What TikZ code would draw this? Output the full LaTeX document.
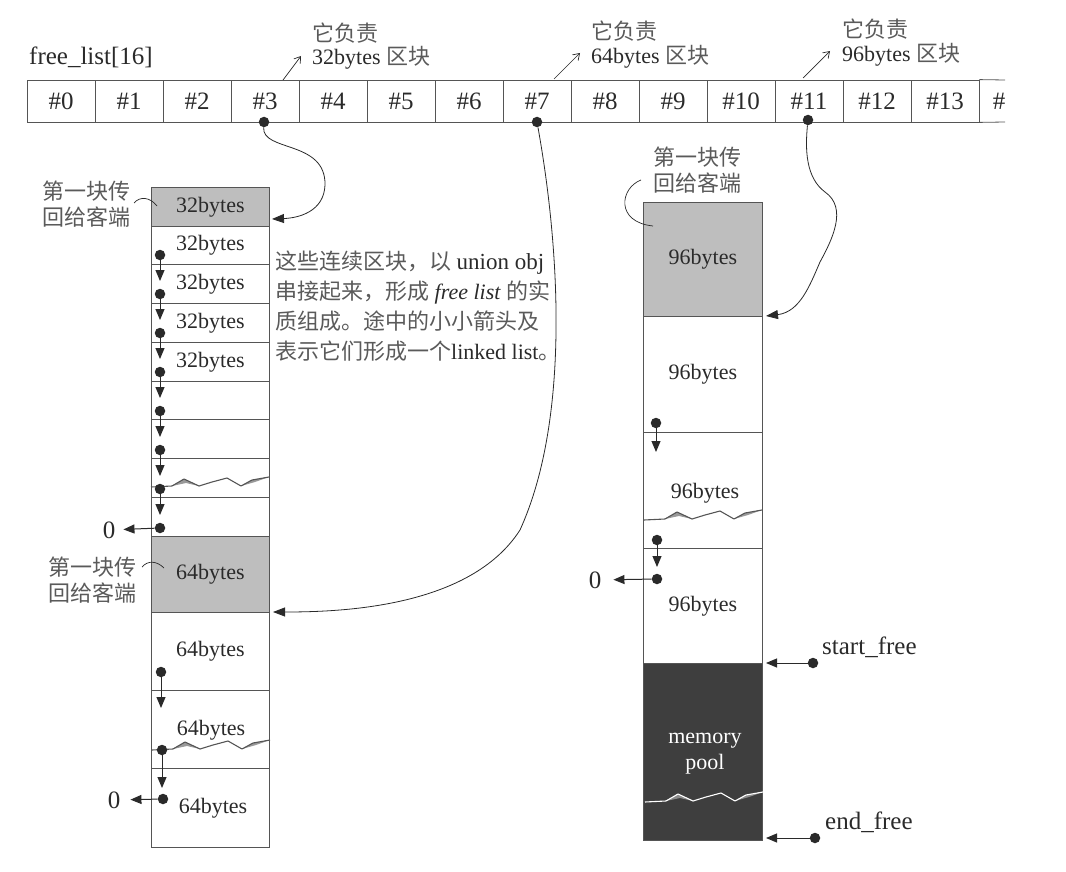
\documentclass[tikz,border=0pt]{standalone}
\usepackage{fontspec}
\setmainfont{Liberation Serif}
\newfontfamily\cjk{Noto Sans CJK SC}
\usetikzlibrary{arrows.meta}
\definecolor{lc}{HTML}{555555}
\definecolor{tc}{HTML}{2A2A2A}
\definecolor{cc}{HTML}{5A5A5A}
\definecolor{gf}{HTML}{BEBEBE}
\definecolor{dk}{HTML}{3E3E3E}
\newcommand{\zh}[1]{{\cjk\color{cc}#1}}
\newcommand{\wavyline}[4]{%
  \begin{scope}[shift={(#1,#2)}]
    \fill[#4] (21,-1)--(33,-8)--(48,-1)--(35,-4)--cycle;
    \fill[#4] (90,-1)--(101,-7)--(118,-10)--(104,-5)--cycle;
    \draw[#3, line width=1.1pt, line join=round] (0,0)--(21,-1)--(33,-8)--(48,-1)--(61,-5)--(76,-9)--(90,-1)--(101,-7)--(118,-10);
  \end{scope}}
\begin{document}
\begin{tikzpicture}[x=1pt,y=-1pt,
  every node/.style={inner sep=0pt, text=tc, font=\fontsize{22}{26}\selectfont},
  lab/.style={font=\fontsize{25}{28}\selectfont},
  ln/.style={draw=lc, line width=0.8pt},
  acell/.style={draw=lc, line width=0.8pt, minimum width=68pt, minimum height=42pt, lab},
  lcell/.style={draw=lc, line width=0.8pt, minimum width=118pt, anchor=north west},
  rcell/.style={draw=lc, line width=0.8pt, minimum width=119pt, anchor=north west},
  gcell/.style={fill=gf},
  dot/.style={circle, fill=tc, minimum size=10.5pt, inner sep=0pt},
  ptr/.style={draw=tc, line width=1pt, -{Triangle[length=11pt,width=9pt]}},
  big/.style={draw=tc, line width=0.8pt, -{Triangle[length=12pt,width=9pt]}},
  note/.style={draw=tc, line width=0.7pt, -{Straight Barb[length=6pt,width=8pt]}},
  tie/.style={draw=tc, line width=0.7pt}]
\useasboundingbox (0,0) rectangle (1066,872);

% ---- free_list array ----
\node[anchor=west, lab] (fl) at (29,57) {free\_list[16]};
\foreach \i in {0,...,13}{
  \node[acell] (c\i) at ({27+68*\i+34},101) {\#\i};
}
\coordinate (e1) at (1005,80);
\coordinate (e2) at (1005,122);
\draw[ln] (c13.north east) -- (e1);
\draw[ln] (c13.south east) -- (e2);
\node[lab] (c14) at (999,101) {\#};

\node[dot] (d3) at (264,122) {};
\node[dot] (d7) at (537,122) {};
\node[dot] (d11) at (808,120) {};

% ---- notes above ----
\node[anchor=west] (n3a) at (312,33) {\zh{它负责}};
\node[anchor=west] (n3b) at (312,58) {32bytes \zh{区块}};
\node[anchor=west] (n7a) at (591,31) {\zh{它负责}};
\node[anchor=west] (n7b) at (591,57) {64bytes \zh{区块}};
\node[anchor=west] (n11a) at (842,29) {\zh{它负责}};
\node[anchor=west] (n11b) at (842,55) {96bytes \zh{区块}};
\coordinate (s3) at (283,80);  \coordinate (t3) at (301,56);
\coordinate (s7) at (554,79);  \coordinate (t7) at (580,53);
\coordinate (s11) at (803,78); \coordinate (t11) at (830,51);
\draw[note] (s3) -- (t3);
\draw[note] (s7) -- (t7);
\draw[note] (s11) -- (t11);

% ---- left column ----
\node[lcell, gcell, minimum height=39pt] (L0) at (151,187) {32bytes};
\node[lcell, minimum height=38pt] (L1) at (151,226) {32bytes};
\node[lcell, minimum height=39pt] (L2) at (151,264) {32bytes};
\node[lcell, minimum height=39pt] (L3) at (151,303) {32bytes};
\node[lcell, minimum height=39pt] (L4) at (151,342) {32bytes};
\node[lcell, minimum height=38pt] (L5) at (151,381) {};
\node[lcell, minimum height=39pt] (L6) at (151,419) {};
\node[lcell, minimum height=39pt] (L7) at (151,458) {};
\node[lcell, minimum height=39pt] (L8) at (151,497) {};
\node[lcell, gcell, minimum height=76pt] (L9) at (151,536) {64bytes};
\node[lcell, minimum height=78pt] (L10) at (151,612) {64bytes};
\node[lcell, minimum height=78pt] (L11) at (151,690) {};
\node[lcell, minimum height=79pt] (L12) at (151,768) {};
\node (L11t) at (211,730) {64bytes};
\node (L12t) at (213,808) {64bytes};
\wavyline{151}{487}{lc}{gray!80}
\wavyline{152}{750}{lc}{gray!80}

% 32 bytes list pointers
\foreach \y [count=\k] in {255,294,333,372,411,450,489,528}{
  \node[dot] (p\k) at (160,\y) {};
}
\foreach \y [count=\k] in {281,320,359,398,437,476,515}{
  \coordinate (q\k) at (160,\y);
  \draw[ptr] (p\k) -- (q\k);
}
\node[lab] (z1) at (109,530) {0};
\draw[ptr, shorten >=8pt] (p8) -- (z1);

% 64 bytes pointers
\node[dot] (m1) at (161,672) {};
\node[dot] (m2) at (162,750) {};
\node[dot] (m3) at (163,799) {};
\coordinate (mq1) at (161,708);
\coordinate (mq2) at (162,788);
\draw[ptr] (m1) -- (mq1);
\draw[ptr] (m2) -- (mq2);
\node[lab] (z2) at (114,800) {0};
\draw[ptr, shorten >=10pt] (m3) -- (z2);

% labels left
\node[align=center, font=\fontsize{22}{26}\selectfont\cjk, text=cc] (f1) at (86,204) {第一块传\\回给客端};
\node[align=center, font=\fontsize{22}{26}\selectfont\cjk, text=cc] (f2) at (92,580) {第一块传\\回给客端};
\coordinate (f1a) at (134,203); \coordinate (f1b) at (157,206);
\coordinate (f2a) at (142,567); \coordinate (f2b) at (164,568);
\draw[tie] (f1a) .. controls (140,196) and (150,197) .. (f1b);
\draw[tie] (f2a) .. controls (148,560) and (157,561) .. (f2b);

% explanation text
\node[anchor=north west, align=left, font=\fontsize{22}{30}\selectfont] (expl) at (275,251) {%
\zh{这些连续区块，以} \fontsize{23}{30}\selectfont union obj\\
\zh{串接起来，形成} \textit{free list} \zh{的实}\\
\zh{质组成。途中的小小箭头及}\\
\zh{表示它们形成一个}linked list\zh{。}};

% ---- right column ----
\node[rcell, gcell, minimum height=114pt] (R0) at (643,202) {96bytes};
\node[rcell, minimum height=116pt] (R1) at (643,316) {96bytes};
\node[rcell, minimum height=116pt] (R2) at (643,432) {};
\node[rcell, minimum height=115pt] (R3) at (643,548) {96bytes};
\node[rcell, fill=dk, minimum height=177pt] (R4) at (643,663) {};
\node (R2t) at (705,493) {96bytes};
\node[align=center, text=white] (mp) at (705,754) {memory\\pool};
\wavyline{644}{520}{lc}{gray!80}
\wavyline{645}{802}{white}{gray!90}

\node[dot] (r1) at (656,423) {};
\node[dot] (r2) at (657,540) {};
\node[dot] (r3) at (657,579) {};
\coordinate (rq1) at (656,452);
\coordinate (rq2) at (657,567);
\draw[ptr] (r1) -- (rq1);
\draw[ptr] (r2) -- (rq2);
\node[lab] (z3) at (595,580) {0};
\draw[ptr, shorten >=12pt] (r3) -- (z3);

\node[align=center, font=\fontsize{22}{26}\selectfont\cjk, text=cc] (f3) at (697,170) {第一块传\\回给客端};
\coordinate (f3a) at (641,180); \coordinate (f3b) at (653,226);
\draw[tie] (f3a) .. controls (620,188) and (615,222) .. (f3b);

% start / end free
\node[dot] (sf) at (813,663) {};
\node[dot] (ef) at (815,838) {};
\node[anchor=west, lab] (sft) at (822,647) {start\_free};
\node[anchor=west, lab] (eft) at (825,822) {end\_free};
\coordinate (sft0) at (766,663);
\coordinate (eft0) at (766,838);
\draw[ptr] (sf) -- (sft0);
\draw[ptr] (ef) -- (eft0);

% ---- big curved pointers ----
\coordinate (a32) at (272,219);
\coordinate (a64) at (273,612);
\coordinate (a96) at (766,316);
\draw[big] (d3) .. controls (262,152) and (326,140) .. (325,185) .. controls (324,212) and (298,218) .. (a32);
\draw[big] (d7) .. controls (560,250) and (570,420) .. (520,530) .. controls (470,608) and (340,612) .. (a64);
\draw[big] (d11) .. controls (805,150) and (806,178) .. (825,192) .. controls (848,208) and (832,240) .. (820,262) .. controls (810,285) and (800,312) .. (a96);
\end{tikzpicture}
\end{document}
